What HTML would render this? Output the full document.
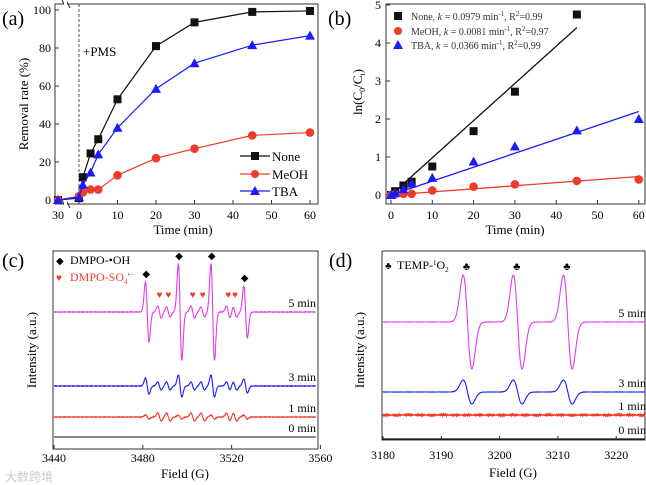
<!DOCTYPE html>
<html><head><meta charset="utf-8"><style>
body{margin:0;background:#fff;}
svg{display:block;font-family:"Liberation Serif","DejaVu Serif",serif;}
text{font-family:"Liberation Serif","DejaVu Serif",serif;}
</style></head><body>
<svg id="fig" width="646" height="485" viewBox="0 0 646 485" xmlns="http://www.w3.org/2000/svg"></svg>
<script>
// ---- Panel (a) data ----
const aTimes=[-30,0,1,3,5,10,20,30,45,60];
const aNone=[0,1,12,24.5,32,53,81,93.5,99,99.5];
const aMeOH=[0,2,4,5.5,5.5,13,22,27,34,35.5];
const aTBA=[0,1.5,8,14.5,24,38,58.5,72,81.5,86.5];
const aYTicks=[0,20,40,60,80,100];
const aXTicks=[0,10,20,30,40,50,60];
// ---- Panel (b) data ----
const bTimes=[0,1,3,5,10,20,30,45,60];
const bNone=[0,0.1,0.25,0.35,0.75,1.68,2.72,4.75,null];
const bMeOH=[0,0.02,0.03,0.03,0.12,0.22,0.28,0.37,0.41];
const bTBA=[0,0.05,0.15,0.3,0.45,0.88,1.28,1.7,2.0];
const bK=[0.0979,0.0081,0.0366];
const bFitEnd=[45,60,60];
const bYTicks=[0,1,2,3,4,5];
const bXTicks=[0,10,20,30,40,50,60];
// ---- Panel (c) data ----
const cOH=[3482,3496.8,3511.5,3526.3];
const cSO4=[3487.5,3491.5,3502.5,3507,3518.5,3521.5];
const cOH5=[30,48,48,26];
const cSO45=[6,5,6,5,6,5];
const cOH3=[8,11,11,7];
const cSO43=[4,4,4,4,4,4];
const cOH1=[2,2,2,2];
const cSO41=[4,4,4,4,4,4];
const cXTicks=[3440,3480,3520,3560];
// ---- Panel (d) data ----
const dPeaks=[3194.5,3203.1,3211.7];
const dAmp5=[47,47,47];
const dAmp3=[12,12,12];
const dXTicks=[3180,3190,3200,3210,3220];

const NS="http://www.w3.org/2000/svg";
const svg=document.getElementById('fig');
function mk(tag,attrs,parent){const e=document.createElementNS(NS,tag);for(const k in attrs)e.setAttribute(k,attrs[k]);(parent||svg).appendChild(e);return e;}
function txt(x,y,s,size,anchor,fill,name){const e=mk('text',{x:x,y:y,'font-size':size,'text-anchor':anchor||'middle',fill:fill||'#000'});e.innerHTML=s;


return e;}
function marker(type,x,y,col,s,name){let e;
if(type==='sq'){e=mk('rect',{x:x-s,y:y-s,width:2*s,height:2*s,fill:col});}
else if(type==='ci'){e=mk('circle',{cx:x,cy:y,r:s,fill:col});}
else {e=mk('polygon',{points:`${x},${y-s-1} ${x-s-1},${y+s} ${x+s+1},${y+s}`,fill:col});}


return e;}
function box(x0,y0,x1,y1,name){const e=mk('rect',{x:x0,y:y0,width:x1-x0,height:y1-y0,fill:'none',stroke:'#333','stroke-width':1});

}
const BLACK='#111',RED='#f03a2a',BLUE='#1a1aff',MAG='#e03ce8';

// ===== Panel (a) =====
{const xa=t=>79+t*3.85; const ya=v=>200-v*1.9;
box(55,4,318,204,'panel-a-axes');
const br=mk('path',{d:'M62,0 L66,8 M66,0 L70,8 M62,200 L66,208 M66,200 L70,208',stroke:'#333',fill:'none'});


const wb=mk('rect',{x:64,y:0,width:3,height:208,fill:'#fff'});


const dl=mk('line',{x1:79,y1:4,x2:79,y2:204,stroke:'#555','stroke-dasharray':'3,2'});


txt(83,56,'+PMS',13,'start','#000','pms-label');
aYTicks.forEach(v=>{const t=mk('line',{x1:55,y1:ya(v),x2:59,y2:ya(v),stroke:'#333'});


txt(51,ya(v)+4,v,12,'end','#000','y-tick-label');});
aXTicks.forEach(v=>{const t=mk('line',{x1:xa(v),y1:204,x2:xa(v),y2:200,stroke:'#333'});


txt(xa(v),219,v,12,'middle','#000','x-tick-label');});
txt(58,219,'30',12,'middle','#000','x-tick-label');
txt(183,234,'Time (min)',13,'middle','#000','x-axis-title');
const yl=txt(0,0,'Removal rate (%)',13,'middle','#000','y-axis-title');yl.setAttribute('transform','translate(28,104) rotate(-90)');
txt(2,25,'(a)',20,'start','#000','panel-a-label');
[[aNone,BLACK,'sq','none'],[aMeOH,RED,'ci','meoh'],[aTBA,BLUE,'tr','tba']].forEach(([d,c,m,n])=>{
const pts=aTimes.map((t,i)=>`${t<0?58:xa(t)},${ya(d[i])}`).join(' ');
const pl=mk('polyline',{points:pts,fill:'none',stroke:c,'stroke-width':1.2});


aTimes.forEach((t,i)=>marker(m,t<0?58:xa(t),ya(d[i]),c,m==='ci'?4.3:4,'point-'+n));});
[['None',BLACK,'sq',156],['MeOH',RED,'ci',174],['TBA',BLUE,'tr',191]].forEach(([s,c,m,y])=>{
const l=mk('line',{x1:240,y1:y,x2:270,y2:y,stroke:c,'stroke-width':1.2});


marker(m,255,y,c,4,'legend-marker');txt(272,y+5,s,13,'start','#000','legend-entry');});
}

// ===== Panel (b) =====
{const xb=t=>391+t*4.13; const yb=v=>195-v*38;
box(386,4,645,204,'panel-b-axes');
bYTicks.forEach(v=>{const t=mk('line',{x1:386,y1:yb(v),x2:390,y2:yb(v),stroke:'#333'});


txt(381,yb(v)+4,v,12,'end','#000','y-tick-label');});
bXTicks.forEach(v=>{const t=mk('line',{x1:xb(v),y1:204,x2:xb(v),y2:200,stroke:'#333'});


txt(xb(v),219,v,12,'middle','#000','x-tick-label');});
txt(515,234,'Time (min)',13,'middle','#000','x-axis-title');
const yl=txt(0,0,'ln(C<tspan font-size="8" dy="3">0</tspan><tspan dy="-3">/C</tspan><tspan font-size="8" dy="3">t</tspan><tspan dy="-3">)</tspan>',13,'middle','#000','y-axis-title');yl.setAttribute('transform','translate(362,92) rotate(-90)');
txt(328,25,'(b)',20,'start','#000','panel-b-label');
[[bNone,BLACK,'sq','none',0],[bMeOH,RED,'ci','meoh',1],[bTBA,BLUE,'tr','tba',2]].forEach(([d,c,m,n,k])=>{
const l=mk('line',{x1:xb(0),y1:yb(0),x2:xb(bFitEnd[k]),y2:yb(bK[k]*bFitEnd[k]),stroke:c,'stroke-width':1.3});


bTimes.forEach((t,i)=>{if(d[i]!==null)marker(m,xb(t),yb(d[i]),c,m==='ci'?4.3:4,'point-'+n);});});
[['None',BLACK,'sq',16,0,'0.99'],['MeOH',RED,'ci',31,1,'0.97'],['TBA',BLUE,'tr',45,2,'0.99']].forEach(([s,c,m,y,k,r])=>{
marker(m,398,y,c,4,'legend-marker');
txt(411,y+4,`${s}, <tspan font-style="italic">k</tspan> = ${bK[k].toFixed(4)} min<tspan font-size="7" dy="-4">-1</tspan><tspan dy="4">, R</tspan><tspan font-size="7" dy="-4">2</tspan><tspan dy="4">=${r}</tspan>`,10,'start','#333','legend-entry');});
}

function deriv(x,c,a,w){const u=(x-c)/w;return -a/0.6065*u*Math.exp(-u*u/2);}
function spectrum(x0,x1,px,centers,amps,w,base,noise){let p=[];for(let X=x0;X<=x1;X+=0.05){let v=0;centers.forEach((c,i)=>v+=deriv(X,c,amps[i],w));v+=noise*(Math.sin(X*37.1)*0.6+Math.sin(X*91.7)*0.4);p.push(`${px(X).toFixed(1)},${(base-v).toFixed(1)}`);}return p.join(' ');}

// ===== Panel (c) =====
{const xc=f=>54+(f-3440)*2.22;
box(53,251,318,449,'panel-c-axes');
cXTicks.forEach(v=>{const t=mk('line',{x1:xc(v),y1:449,x2:xc(v),y2:445,stroke:'#333'});


txt(xc(v),462,v,12,'middle','#000','x-tick-label');});
txt(185,478,'Field (G)',13,'middle','#000','x-axis-title');
const yl=txt(0,0,'Intensity (a.u.)',13,'middle','#000','y-axis-title');yl.setAttribute('transform','translate(36,350) rotate(-90)');
txt(2,267,'(c)',20,'start','#000','panel-c-label');
const rows=[[MAG,312,cOH5,cSO45,'5 min',0.1],[BLUE,386,cOH3,cSO43,'3 min',0.1],[RED,417,cOH1,cSO41,'1 min',0.15],[BLACK,437,[0,0,0,0],[0,0,0,0,0,0],'0 min',0]];
rows.forEach(([c,b,oh,so,lab,nz])=>{
const pl=mk('polyline',{points:spectrum(3440,3558,xc,cOH.concat(cSO4),oh.concat(so),0.8,b,nz),fill:'none',stroke:c,'stroke-width':1.1});


txt(316,b-5,lab,12,'end','#000','trace-label');});
cOH.forEach((f,i)=>txt(xc(f)-1,312-cOH5[i]-5,'◆',10,'middle','#000','dmpo-oh-marker'));
cSO4.forEach(f=>txt(xc(f),312-14,'♥',10,'middle',RED,'dmpo-so4-marker'));
txt(56,264,'◆',10,'start','#000','legend-marker');
txt(70,264,'DMPO-•OH',12,'start','#000','legend-entry');
txt(56,281,'♥',10,'start',RED,'legend-marker');
txt(70,281,'DMPO-SO<tspan font-size="7" dy="3">4</tspan><tspan font-size="7" dy="-7">•−</tspan>',12,'start',RED,'legend-entry');
const wm=txt(5,481,'大数跨境',12,'start','#ccc','watermark');wm.setAttribute('style','font-family:"Noto Sans CJK SC",sans-serif');
}

// ===== Panel (d) =====
{const xd=f=>383+(f-3180)*5.83;
box(382,251,645,440,'panel-d-axes');
dXTicks.forEach(v=>{const t=mk('line',{x1:xd(v),y1:440,x2:xd(v),y2:436,stroke:'#333'});


txt(xd(v),459,v,12,'middle','#000','x-tick-label');});
txt(513,477,'Field (G)',13,'middle','#000','x-axis-title');
const yl=txt(0,0,'Intensity (a.u.)',13,'middle','#000','y-axis-title');yl.setAttribute('transform','translate(364,350) rotate(-90)');
txt(329,267,'(d)',20,'start','#000','panel-d-label');
const rows=[[MAG,322,dAmp5,'5 min',0.1],[BLUE,392,dAmp3,'3 min',0.15],[RED,415,[0,0,0],'1 min',1.0]];
rows.forEach(([c,b,amp,lab,nz])=>{
const pl=mk('polyline',{points:spectrum(3180,3225,xd,dPeaks,amp,0.75,b,nz),fill:'none',stroke:c,'stroke-width':1.1});


txt(646,b-5,lab,12,'end','#000','trace-label');});
const z=mk('line',{x1:382,y1:439,x2:645,y2:439,stroke:BLACK,'stroke-width':1.2});


txt(646,434,'0 min',12,'end','#000','trace-label');
dPeaks.forEach(f=>txt(xd(f)-1,270,'♣',11,'middle','#000','temp-marker'));
txt(385,269,'♣',10,'start','#000','legend-marker');
txt(397,269,'TEMP-<tspan font-size="7" dy="-4">1</tspan><tspan dy="4">O</tspan><tspan font-size="7" dy="3">2</tspan>',12,'start','#000','legend-entry');
}
</script>
</body></html>
